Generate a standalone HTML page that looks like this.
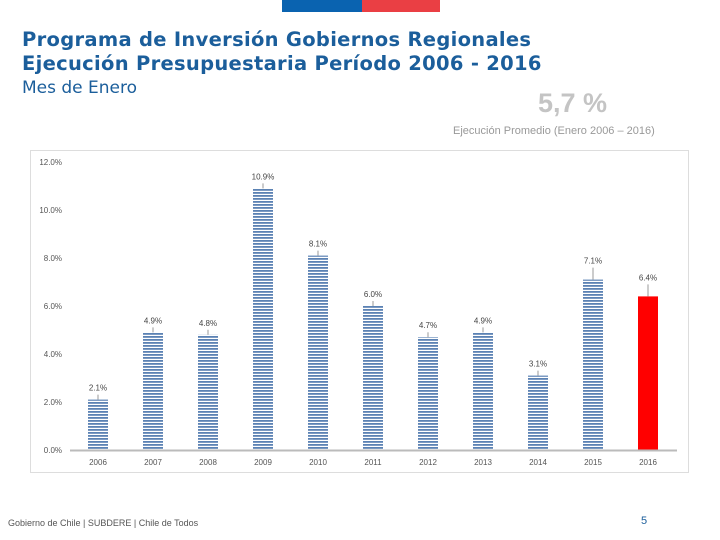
<!DOCTYPE html>
<html><head><meta charset="utf-8"><style>
body{margin:0;width:720px;height:540px;background:#fff;position:relative;overflow:hidden;font-family:"Liberation Sans","DejaVu Sans",sans-serif}
.a{position:absolute;white-space:nowrap}
</style></head><body>
<div class="a" style="left:282px;top:0;width:80px;height:12px;background:#0a63b0"></div>
<div class="a" style="left:362px;top:0;width:78px;height:12px;background:#ea3f44"></div>
<div class="a" style="left:22px;top:28px;font-family:'DejaVu Sans',sans-serif;font-weight:bold;font-size:19.5px;line-height:24px;color:#1b5e9b;letter-spacing:0.3px">Programa de Inversión Gobiernos Regionales<br>Ejecución Presupuestaria Período 2006 - 2016</div>
<div class="a" style="left:22px;top:78px;font-family:'DejaVu Sans',sans-serif;font-size:17px;color:#1b5e9b">Mes de Enero</div>
<div class="a" style="left:538px;top:88px;font-size:27px;font-weight:bold;color:#c4c4c4">5,7 %</div>
<div class="a" style="left:453px;top:125px;font-size:11px;color:#999">Ejecución Promedio (Enero 2006 – 2016)</div>
<svg class="a" style="left:0;top:0" width="720" height="540">
<defs><pattern id="st" width="4" height="3" patternUnits="userSpaceOnUse"><rect width="4" height="3" fill="#fff"/><rect width="4" height="1.8" fill="#5b82b4"/></pattern></defs>
<rect x="30.5" y="150.5" width="658" height="322" fill="none" stroke="#ddd"/>
<g id="g"></g>
</svg>
<div class="a" style="left:8px;top:518px;font-size:9px;color:#555">Gobierno de Chile | SUBDERE | Chile de Todos</div>
<div class="a" style="left:641px;top:515px;font-size:11px;color:#1b5e9b">5</div>
<script>
const categories=["2006","2007","2008","2009","2010","2011","2012","2013","2014","2015","2016"];
const values=[2.1,4.9,4.8,10.9,8.1,6.0,4.7,4.9,3.1,7.1,6.4];
const labels=["2.1%","4.9%","4.8%","10.9%","8.1%","6.0%","4.7%","4.9%","3.1%","7.1%","6.4%"];
const ticks=[0,2,4,6,8,10,12];
const tickLabels=["0.0%","2.0%","4.0%","6.0%","8.0%","10.0%","12.0%"];
const y=v=>450-v*24, x=i=>98+i*55;
const g=document.getElementById('g'),NS="http://www.w3.org/2000/svg";
function mk(t,a){const e=document.createElementNS(NS,t);for(const k in a)e.setAttribute(k,a[k]);g.appendChild(e);return e;}
ticks.forEach((t,i)=>{const e=mk('text',{x:62,y:y(t)+3,'text-anchor':'end','font-size':8,fill:'#555'});e.textContent=tickLabels[i];

});
values.forEach((v,i)=>{const last=i>=values.length-2;
const r=mk('rect',{x:x(i)-10,y:y(v),width:20,height:v*24,fill:i==values.length-1?'#f00':'url(#st)'});


const lo=last?12:5;
const l=mk('line',{x1:x(i),x2:x(i),y1:y(v)-lo,y2:y(v),stroke:'#999'});


const t=mk('text',{x:x(i),y:y(v)-lo-4,'text-anchor':'middle','font-size':8,fill:'#444'});t.textContent=labels[i];


const c=mk('text',{x:x(i),y:465,'text-anchor':'middle','font-size':8,fill:'#555'});c.textContent=categories[i];

});
const ax=mk('line',{x1:70,x2:677,y1:450.5,y2:450.5,stroke:'#bbb','stroke-width':2});


</script>
</body></html>
